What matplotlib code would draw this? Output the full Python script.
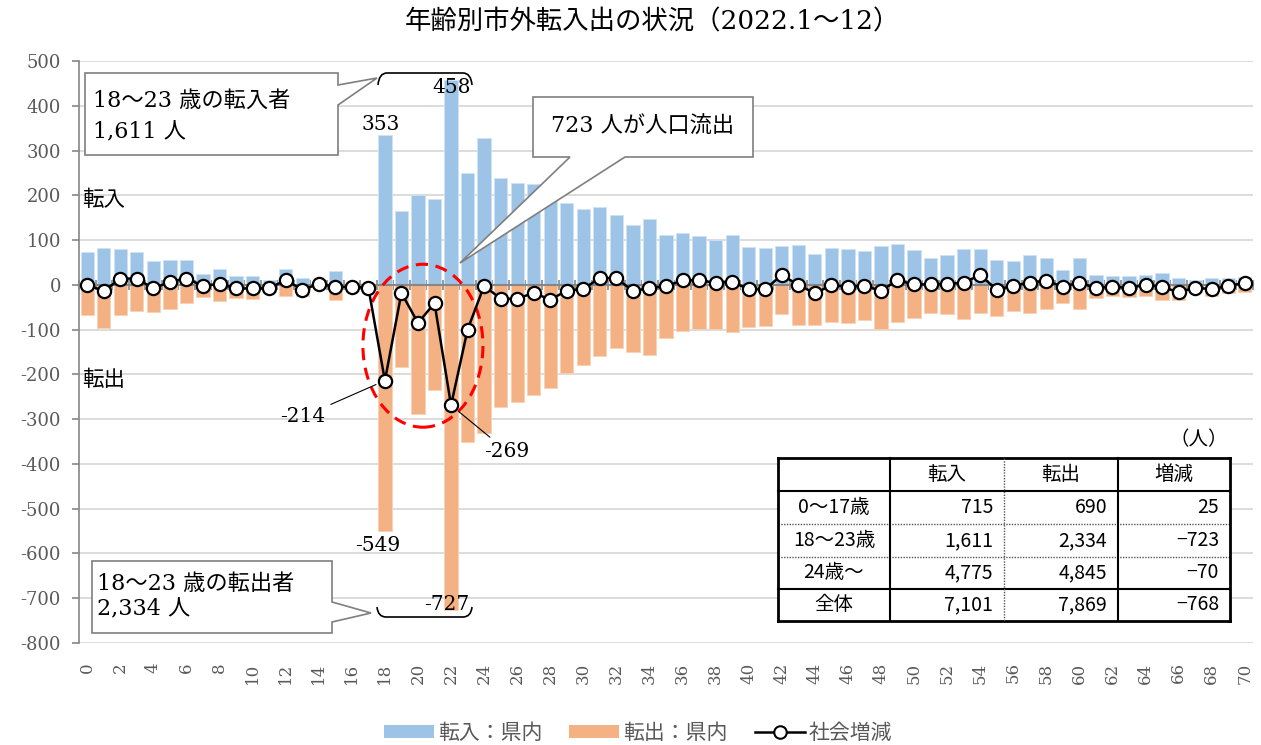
import numpy as np
import matplotlib.pyplot as plt
from matplotlib.patches import Polygon, Ellipse, Rectangle, Patch, PathPatch
from matplotlib.lines import Line2D
from matplotlib.path import Path

plt.rcParams['axes.unicode_minus'] = False

# 年齢 0〜70
ages = list(range(71))
xtick_labels = [str(a) if a % 2 == 0 else '' for a in ages]

# 転入：県内
tennyu = [74, 82, 80, 73, 54, 55, 55, 24, 35, 19,
          20, 11, 35, 15, 6, 30, 4, 3, 335, 164,
          200, 191, 458, 249, 329, 239, 227, 225, 197, 183,
          170, 174, 155, 134, 148, 112, 115, 109, 101, 111,
          85, 82, 87, 89, 69, 82, 81, 76, 86, 92,
          77, 60, 66, 81, 81, 55, 54, 66, 60, 34,
          60, 22, 20, 20, 22, 26, 16, 10, 16, 16,
          18]
# 転出：県内
tenshutsu = [-68, -96, -67, -59, -61, -53, -41, -28, -35, -29,
             -31, -17, -26, -26, -5, -34, -9, -9, -549, -184,
             -288, -235, -727, -351, -331, -272, -261, -246, -230, -196,
             -180, -160, -140, -150, -156, -118, -104, -99, -98, -105,
             -95, -92, -66, -89, -89, -84, -86, -79, -99, -83,
             -75, -62, -66, -77, -64, -69, -58, -64, -53, -40,
             -55, -29, -26, -28, -26, -34, -33, -16, -26, -19,
             -16]
# 社会増減
zougen = [0, -14, 14, 14, -8, 7, 14, -2, 2, -8,
          -8, -8, 11, -11, 2, -4, -5, -6, -214, -18,
          -85, -41, -269, -100, -2, -31, -31, -18, -33, -13,
          -9, 15, 15, -14, -7, -3, 10, 11, 4, 7,
          -10, -10, 22, 0, -19, -1, -4, -2, -13, 10,
          1, 1, 2, 5, 22, -11, -2, 5, 9, -4,
          5, -7, -4, -7, 0, -4, -17, -6, -10, -2,
          4]

yticks = list(range(-800, 501, 100))

# 表
tbl_cols = ['転入', '転出', '増減']
tbl_rows = ['0〜17歳', '18〜23歳', '24歳〜', '全体']
tbl_in = ['715', '1,611', '4,775', '7,101']
tbl_out = ['690', '2,334', '4,845', '7,869']
tbl_net = ['25', '−723', '−70', '−768']

W, H = 1261, 745
SERIF = ['DejaVu Serif', 'Noto Sans CJK JP']
GOTH = ['Noto Sans CJK JP', 'DejaVu Sans']
GRAY = '#595959'
AXGRAY = '#868686'


def P(x, y):
    # 画像のピクセル座標 -> figure座標
    return (x / W, 1 - y / H)


fig = plt.figure(figsize=(W / 100, H / 100), dpi=100)
ax = fig.add_axes([79 / W, 1 - 643 / H, 1174 / W, 582 / H])

ax.bar(ages, tennyu, width=0.8, color='#9DC3E6', edgecolor='#D0E3F4', lw=0.6, zorder=2)
ax.bar(ages, tenshutsu, width=0.8, color='#F4B183', edgecolor='#F8D2B5', lw=0.6, zorder=2)
ax.plot(ages, zougen, color='black', lw=1.8, marker='o', ms=9.5, mfc='white',
        mec='black', mew=1.6, zorder=6)

ax.set_xlim(-0.5, 70.5)
ax.set_ylim(-800, 500)
ax.set_yticks(yticks)
ax.set_yticklabels([str(v) for v in yticks], family=SERIF, fontsize=13, color=GRAY)
ax.tick_params(axis='y', length=5, pad=8, color=AXGRAY, width=1.2)
ax.grid(axis='y', color='#D9D9D9', lw=1.3)
ax.set_axisbelow(True)
for s in ['top', 'right']:
    ax.spines[s].set_visible(False)
ax.spines['left'].set_color(AXGRAY)
ax.spines['left'].set_linewidth(1.2)

# 横軸は0の位置、目盛ラベルは下
ax.spines['bottom'].set_position(('data', 0))
ax.spines['bottom'].set_color(AXGRAY)
ax.spines['bottom'].set_linewidth(1.5)
ax.spines['bottom'].set_zorder(3)
ax.set_xticks(np.arange(-0.5, 71, 1))
ax.set_xticklabels([])
ax.tick_params(axis='x', direction='inout', length=7, color=AXGRAY, width=1.2)

sec = ax.secondary_xaxis(0)
sec.set_xticks(ages)
sec.set_xticklabels(xtick_labels, rotation=90, family=SERIF, fontsize=12, color=GRAY)
sec.tick_params(length=0, pad=14)
sec.spines['bottom'].set_visible(False)

# 赤い点線の楕円
ax.add_patch(Ellipse((20.3, -136), 7.26, 364, fill=False, ec='#FF0000', lw=2.2,
                     ls=(0, (4, 2.5)), zorder=5))

# データラベル
lab = dict(family=SERIF, fontsize=14.5, color='black', ha='center', va='center',
           textcoords='offset pixels', zorder=7)
ax.annotate('353', (18, tennyu[18]), xytext=(-4, 10), **lab)
ax.annotate('458', (22, tennyu[22]), xytext=(1, -8), **lab)
ax.annotate('-549', (18, tenshutsu[18]), xytext=(-7, -15), **lab)
ax.annotate('-727', (22, tenshutsu[22]), xytext=(-4, 6), **lab)
ax.annotate('-214', (18, zougen[18]), xytext=(-82, -36),
            arrowprops=dict(arrowstyle='-', color='black', lw=0.8, shrinkA=2, shrinkB=7), **lab)
ax.annotate('-269', (22, zougen[22]), xytext=(56, -46),
            arrowprops=dict(arrowstyle='-', color='black', lw=0.8, shrinkA=2, shrinkB=7), **lab)

# 吹き出し
def callout(pts):
    fig.add_artist(Polygon([P(x, y) for x, y in pts], closed=True, transform=fig.transFigure,
                           fc='white', ec='#7F7F7F', lw=1.2, zorder=8))


callout([(85, 73), (338, 73), (338, 85), (377, 78), (338, 105), (338, 155), (85, 155)])
callout([(92, 561), (332, 561), (332, 602), (371, 613), (332, 622), (332, 633), (92, 633)])
callout([(533, 97), (753, 97), (753, 157), (625, 157), (460, 263), (570, 157), (533, 157)])

box = dict(family=SERIF, fontsize=16, color='black', va='center', zorder=9)
fig.text(*P(93, 101), '18〜23 歳の転入者', **box)
fig.text(*P(93, 132), '1,611 人', **box)
fig.text(*P(97, 584), '18〜23 歳の転出者', **box)
fig.text(*P(97, 609), '2,334 人', **box)
fig.text(*P(643, 127), '723 人が人口流出', ha='center', **box)

# 中括弧
def brace(x0, x1, y_end, y_line):
    verts = [P(x0, y_end), P(x0 + 1, y_line), P(x0 + 9, y_line), P(x1 - 9, y_line),
             P(x1 - 1, y_line), P(x1, y_end)]
    codes = [Path.MOVETO, Path.CURVE3, Path.CURVE3, Path.LINETO, Path.CURVE3, Path.CURVE3]
    fig.add_artist(PathPatch(Path(verts, codes), fill=False, ec='black', lw=1.2,
                             transform=fig.transFigure, zorder=8))


brace(378, 472, 85, 73)
brace(377, 472, 607, 617)

fig.text(*P(82, 200), '転入', family=SERIF, fontsize=15.5, va='center')
fig.text(*P(82, 380), '転出', family=SERIF, fontsize=15.5, va='center')

fig.text(*P(652, 22), '年齢別市外転入出の状況（2022.1〜12）', family=SERIF, fontsize=19,
         ha='center', va='center')

# 表
col_x = [778, 890, 1004, 1118, 1230]
row_y = [458, 491, 524, 557, 589, 621]
fig.add_artist(Rectangle(P(col_x[0], row_y[-1]), (col_x[-1] - col_x[0]) / W,
                         (row_y[-1] - row_y[0]) / H, transform=fig.transFigure,
                         fc='white', ec='none', zorder=8))


def hline(y, x0, x1, solid=True, lw=1.5):
    fig.add_artist(Line2D([x0 / W, x1 / W], [1 - y / H, 1 - y / H], transform=fig.transFigure,
                          color='black' if solid else '#555555', lw=lw if solid else 1.0,
                          ls='-' if solid else (0, (1, 1)), zorder=9))


def vline(x, y0, y1, solid=True, lw=1.5):
    fig.add_artist(Line2D([x / W, x / W], [1 - y0 / H, 1 - y1 / H], transform=fig.transFigure,
                          color='black' if solid else '#555555', lw=lw if solid else 1.0,
                          ls='-' if solid else (0, (1, 1)), zorder=9))


hline(row_y[0], col_x[0], col_x[-1], lw=2)
hline(row_y[-1], col_x[0], col_x[-1], lw=2)
hline(row_y[1], col_x[0], col_x[-1])
hline(row_y[2], col_x[0], col_x[-1], solid=False)
hline(row_y[3], col_x[0], col_x[-1], solid=False)
hline(row_y[4], col_x[0], col_x[-1])
vline(col_x[0], row_y[0], row_y[-1], lw=2)
vline(col_x[-1], row_y[0], row_y[-1], lw=2)
vline(col_x[1], row_y[0], row_y[-1])
vline(col_x[2], row_y[0], row_y[-1], solid=False)
vline(col_x[3], row_y[0], row_y[-1])

tb = dict(family=GOTH, fontsize=14, color='black', va='center', zorder=10)
for j, c in enumerate(tbl_cols):
    fig.text(*P((col_x[j + 1] + col_x[j + 2]) / 2, (row_y[0] + row_y[1]) / 2), c, ha='center', **tb)
for i, r in enumerate(tbl_rows):
    yc = (row_y[i + 1] + row_y[i + 2]) / 2
    fig.text(*P((col_x[0] + col_x[1]) / 2, yc), r, ha='center', **tb)
    for j, vals in enumerate([tbl_in, tbl_out, tbl_net]):
        fig.text(*P(col_x[j + 2] - 11, yc), vals[i], ha='right', **tb)
fig.text(*P(1228, 440), '（人）', ha='right', **tb)

# 凡例
handles = [Patch(fc='#9DC3E6', ec='none'), Patch(fc='#F4B183', ec='none'),
           Line2D([], [], color='black', lw=1.8, marker='o', ms=9, mfc='white', mec='black', mew=1.5)]
fig.legend(handles, ['転入：県内', '転出：県内', '社会増減'], loc='center',
           bbox_to_anchor=P(638, 733), ncol=3, frameon=False,
           prop={'family': GOTH, 'size': 15}, labelcolor=GRAY,
           handlelength=2.4, handleheight=0.6, handletextpad=0.2, columnspacing=1.3)

fig.savefig('out.png', dpi=100)
